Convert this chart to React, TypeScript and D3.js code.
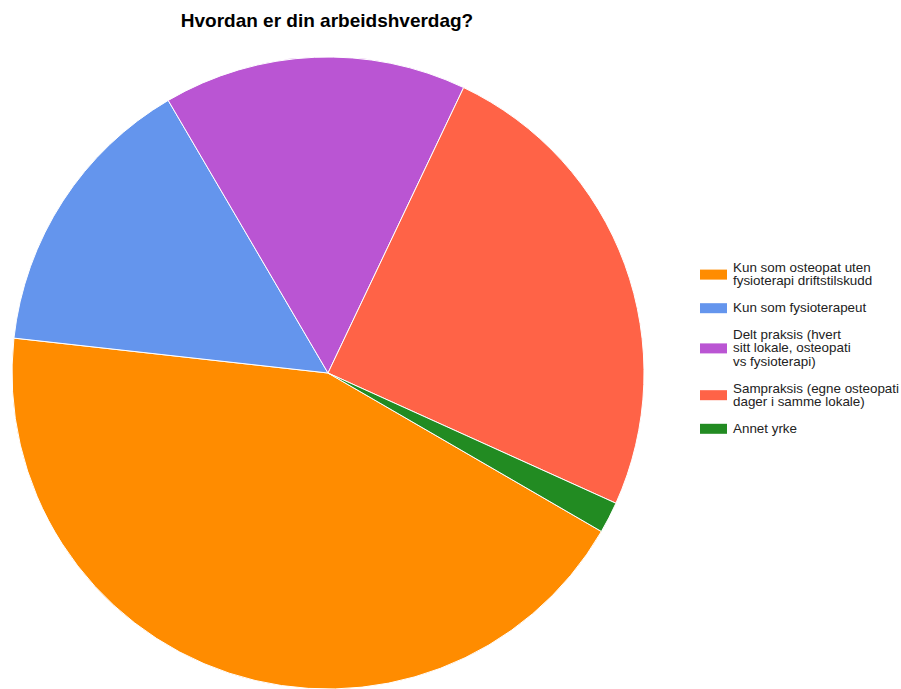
import React from "react";
import * as d3 from "d3";

const title = "Hvordan er din arbeidshverdag?";
const categories = [
  "Kun som osteopat uten fysioterapi driftstilskudd",
  "Kun som fysioterapeut",
  "Delt praksis (hvert sitt lokale, osteopati vs fysioterapi)",
  "Sampraksis (egne osteopati dager i samme lokale)",
  "Annet yrke",
];
const legendLines = [
  ["Kun som osteopat uten", "fysioterapi driftstilskudd"],
  ["Kun som fysioterapeut"],
  ["Delt praksis (hvert", "sitt lokale, osteopati", "vs fysioterapi)"],
  ["Sampraksis (egne osteopati", "dager i samme lokale)"],
  ["Annet yrke"],
];
const values = [43.4, 14.8, 15.5, 24.7, 1.6];
const colors = ["#ff8c00", "#6495ed", "#ba55d3", "#ff6347", "#228b22"];

const W = 901;
const H = 689;
const cx = 328;
const cy = 373;
const R = 316;
const startDeg = 120.1;
const FONT = "Arial, 'Liberation Sans', sans-serif";

export default function App() {
  const start = (startDeg * Math.PI) / 180;
  const pie = d3
    .pie<number>()
    .sort(null)
    .value((d) => d)
    .startAngle(start)
    .endAngle(start + 2 * Math.PI);
  const arcs = pie(values);
  const arc = d3.arc<d3.PieArcDatum<number>>().innerRadius(0).outerRadius(R);

  // legend layout
  const lineH = 13.2;
  const gap = 27;
  let y = 272;
  const legendItems = legendLines.map((lines, i) => {
    const first = y;
    const last = y + (lines.length - 1) * lineH;
    y = last + gap;
    return { lines, first, last, color: colors[i], key: categories[i] };
  });

  return (
    <svg
      width={W}
      height={H}
      style={{ position: "absolute", left: 0, top: 0, background: "#fff" }}
    >
      <text
        x={327}
        y={27}
        textAnchor="middle"
        fontFamily={FONT}
        fontWeight="bold"
        fontSize={19}
        fill="#000"
      >
        {title}
      </text>
      <g transform={`translate(${cx},${cy})`}>
        {arcs.map((a, i) => (
          <path
            key={categories[i]}
            d={arc(a) || ""}
            fill={colors[i]}
            stroke="#fff"
            strokeWidth={1}
          />
        ))}
      </g>
      <g>
        {legendItems.map((it) => {
          const mid = (it.first + it.last) / 2 - 4;
          return (
            <g key={it.key}>
              <rect x={700} y={mid - 5} width={27} height={10} fill={it.color} />
              <text fontFamily={FONT} fontSize={13.4} fill="#222">
                {it.lines.map((l, j) => (
                  <tspan key={j} x={733} y={it.first + j * lineH}>
                    {l}
                  </tspan>
                ))}
              </text>
            </g>
          );
        })}
      </g>
    </svg>
  );
}
